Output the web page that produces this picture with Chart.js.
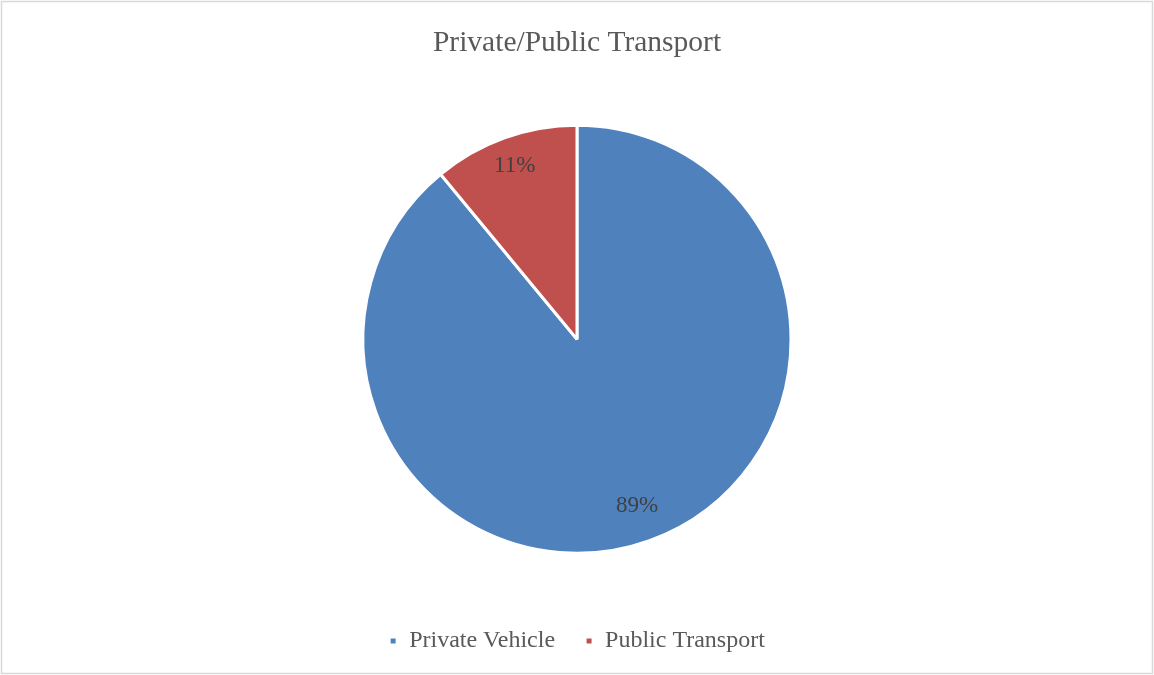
<!DOCTYPE html>
<html>
<head>
<meta charset="utf-8">
<title>Private/Public Transport</title>
<script src="https://cdn.jsdelivr.net/npm/chart.js@4.4.0/dist/chart.umd.min.js"></script>
<style>
    html, body { margin: 0; padding: 0; background: #fff; }
    #wrap { width: 1154px; height: 675px; position: relative; }
</style>
</head>
<body>
<div id="wrap"><canvas id="myChart"></canvas></div>
<script>
const labels = ['Private Vehicle', 'Public Transport'];
const shares = [89, 11];
const colors = ['#4f81bd', '#c0504d'];
// how far out along each slice the % label sits (fraction of radius)
const labelRadius = [0.83, 0.86];

const serif = '"Liberation Serif", "Times New Roman", serif';

// white page with a thin grey frame
const frame = {
    id: 'frame',
    beforeDraw(chart) {
        const c = chart.ctx;
        c.save();
        c.fillStyle = '#fff';
        c.fillRect(0, 0, chart.width, chart.height);
        c.strokeStyle = '#d9d9d9';
        c.lineWidth = 1.5;
        c.strokeRect(1.5, 1.5, chart.width - 3, chart.height - 3);
        c.restore();
    }
};

// percentage labels inside the slices
const sliceLabels = {
    id: 'sliceLabels',
    afterDatasetsDraw(chart) {
        const c = chart.ctx;
        const meta = chart.getDatasetMeta(0);
        c.save();
        c.font = '23px ' + serif;
        c.fillStyle = '#404040';
        c.textAlign = 'center';
        c.textBaseline = 'middle';
        meta.data.forEach(function(arc, i) {
            const mid = (arc.startAngle + arc.endAngle) / 2;
            const r = arc.outerRadius * labelRadius[i];
            const x = arc.x + Math.cos(mid) * r;
            const y = arc.y + Math.sin(mid) * r;
            c.fillText(shares[i] + '%', x, y);
        });
        c.restore();
    }
};

var ctx = document.getElementById('myChart').getContext('2d');
var chart = new Chart(ctx, {
    type: 'pie',
    data: {
        labels: labels,
        datasets: [{
            data: shares,
            backgroundColor: colors,
            borderColor: '#ffffff',
            borderWidth: 3,
            radius: 214
        }]
    },
    options: {
        responsive: true,
        maintainAspectRatio: false,
        animation: false,
        layout: { padding: { top: 0, bottom: 12 } },
        plugins: {
            title: {
                display: true,
                text: 'Private/Public Transport',
                color: '#595959',
                font: { family: serif, size: 29.5, weight: 'normal' },
                padding: { top: 26, bottom: 18 }
            },
            legend: {
                position: 'bottom',
                labels: {
                    color: '#595959',
                    font: { family: serif, size: 24 },
                    boxWidth: 8,
                    boxHeight: 8,
                    padding: 30
                }
            },
            tooltip: { enabled: false }
        }
    },
    plugins: [frame, sliceLabels]
});
</script>
</body>
</html>
